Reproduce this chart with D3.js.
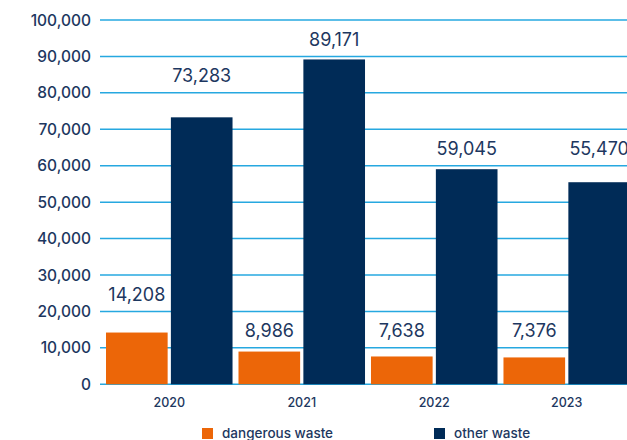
<!DOCTYPE html>
<html>
<head>
<meta charset="utf-8">
<script src="https://cdn.jsdelivr.net/npm/d3@7"></script>
<style>
  body { margin: 0; background: #fff; }
  svg text { font-family: "Inter", "Noto Sans", sans-serif; fill: #1d3760; }
</style>
</head>
<body>
<div class="chart"></div>
<script>
// chart values
let years = ["2020", "2021", "2022", "2023"];
let series = ["dangerous waste", "other waste"];
let dangerousWaste = [14208, 8986, 7638, 7376];
let otherWaste = [73283, 89171, 59045, 55470];
let yTicks = [0, 10000, 20000, 30000, 40000, 50000, 60000, 70000, 80000, 90000, 100000];

let colors = ["#ec6608", "#002b57"];

let w = 627, h = 440;

let svg = d3.select(".chart")
  .append("svg")
  .attr("width", w)
  .attr("height", h);

let y = d3.scaleLinear().domain([0, 100000]).range([384.3, 20]);

let x0 = d3.scaleBand().domain(years).range([106, 630]).paddingInner(0.045);
let x1 = d3.scaleBand().domain(series).range([0, x0.bandwidth()]).paddingInner(0.05);

let fmt = d3.format(",");

// gridlines
svg.append("g")
  .selectAll("line")
  .data(yTicks)
  .enter()
  .append("line")
  .attr("x1", 100)
  .attr("x2", w)
  .attr("y1", d => y(d))
  .attr("y2", d => y(d))
  .attr("stroke", "#26a8e0")
  .attr("stroke-width", 1.5);

// y tick labels
svg.append("g")
  .selectAll("text")
  .data(yTicks)
  .enter()
  .append("text")
  .attr("x", 91)
  .attr("y", d => y(d))
  .attr("dy", "0.36em")
  .attr("text-anchor", "end")
  .style("font-size", "15.5px")
  .style("font-weight", 500)
  .text(d => fmt(d));

// bars
let rows = years.map((yr, i) => ({ year: yr, values: [dangerousWaste[i], otherWaste[i]] }));

let groups = svg.append("g")
  .selectAll("g")
  .data(rows)
  .enter()
  .append("g")
  .attr("transform", d => "translate(" + x0(d.year) + ",0)");

groups.selectAll("rect")
  .data(d => d.values.map((v, k) => ({ key: series[k], value: v, k: k })))
  .enter()
  .append("rect")
  .attr("x", d => x1(d.key))
  .attr("width", x1.bandwidth())
  .attr("y", d => y(d.value))
  .attr("height", d => y(0) - y(d.value))
  .attr("fill", d => colors[d.k]);

// value labels sit just above the next gridline up
groups.selectAll("text")
  .data(d => d.values.map((v, k) => ({ key: series[k], value: v })))
  .enter()
  .append("text")
  .attr("x", d => x1(d.key) + x1.bandwidth() / 2)
  .attr("y", d => y(Math.ceil(d.value / 10000) * 10000) - 10.5)
  .attr("text-anchor", "middle")
  .style("font-size", "18px")
  .text(d => fmt(d.value));

// year labels
svg.append("g")
  .selectAll("text")
  .data(years)
  .enter()
  .append("text")
  .attr("x", d => x0(d) + x0.bandwidth() / 2)
  .attr("y", 407)
  .attr("text-anchor", "middle")
  .style("font-size", "12.5px")
  .style("font-weight", 500)
  .text(d => d);

// legend
let legendX = [202, 434];
let legend = svg.append("g")
  .selectAll("g")
  .data(series)
  .enter()
  .append("g")
  .attr("transform", (d, i) => "translate(" + legendX[i] + ",428)");

legend.append("rect")
  .attr("width", 11)
  .attr("height", 11)
  .attr("fill", (d, i) => colors[i]);

legend.append("text")
  .attr("x", 20)
  .attr("y", 9.5)
  .style("font-size", "13.5px")
  .style("font-weight", 500)
  .text(d => d);
</script>
</body>
</html>
